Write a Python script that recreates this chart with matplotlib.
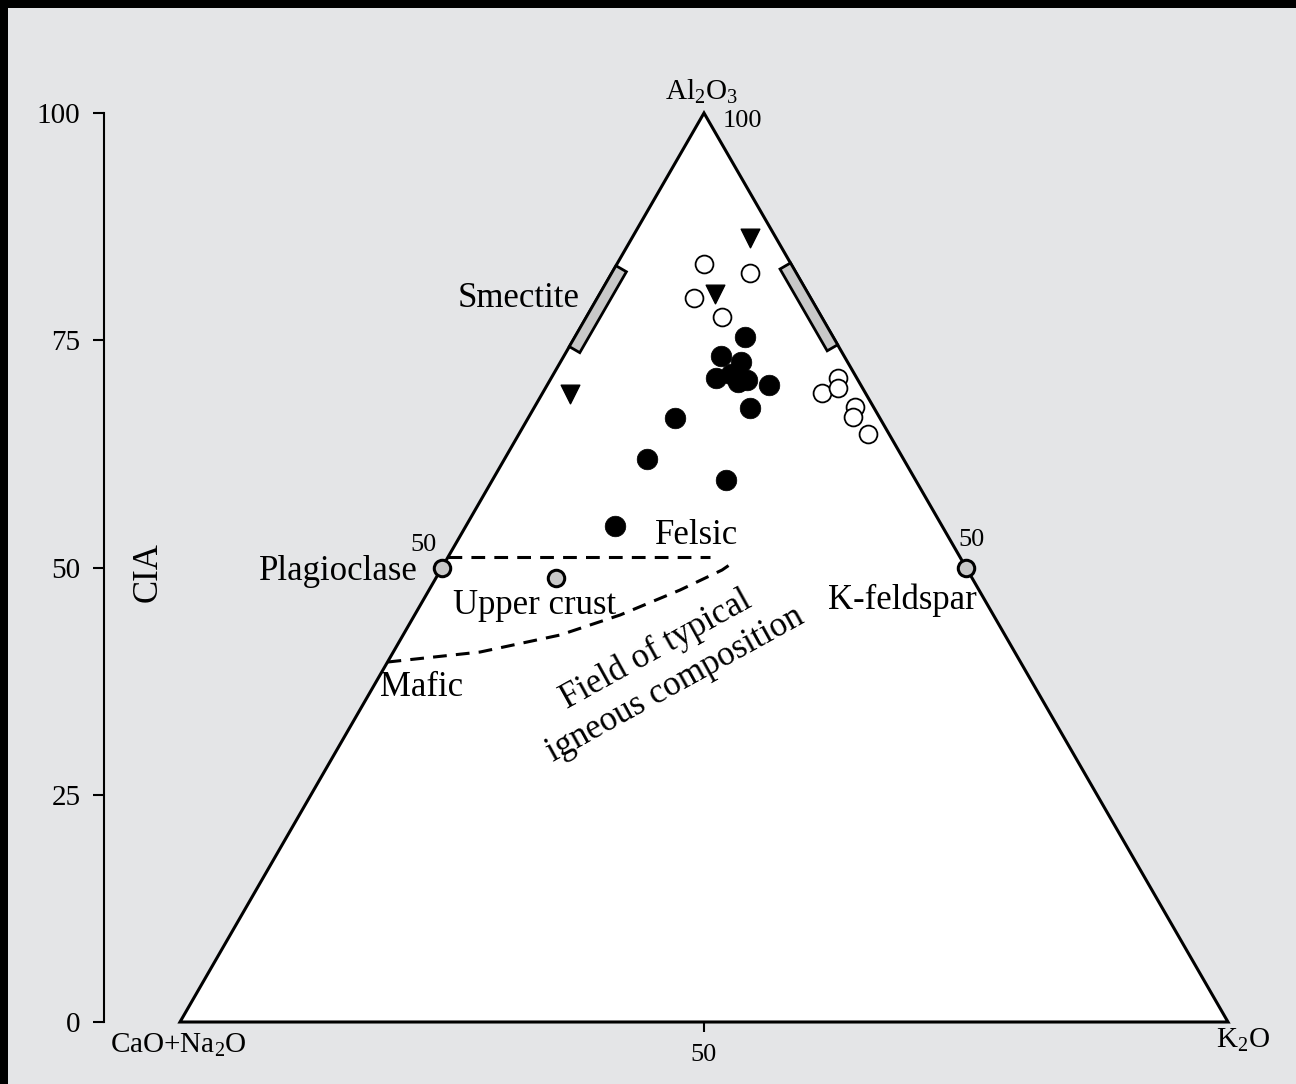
import numpy as np
import matplotlib
matplotlib.use('Agg')
import matplotlib.pyplot as plt
from matplotlib.patches import Polygon, Rectangle

plt.rcParams['font.family'] = ['Liberation Serif', 'DejaVu Serif']
plt.rcParams['mathtext.fontset'] = 'custom'
plt.rcParams['mathtext.rm'] = 'Liberation Serif'
plt.rcParams['mathtext.it'] = 'Liberation Serif:italic'
plt.rcParams['mathtext.bf'] = 'Liberation Serif:bold'

# ---------------- data (Al2O3 = A, K2O = K, CaO+Na2O = 100-A-K) ----------------
filled_A = [75.4, 73.3, 72.6, 70.8, 71.3, 70.4, 70.6, 70.1, 67.5, 66.4, 61.9, 59.6, 54.6]
filled_K = [16.2, 15.0, 17.2, 15.7, 16.9, 18.0, 18.8, 21.15, 20.65, 14.0, 13.65, 22.3, 14.2]

open_A = [83.4, 82.4, 79.6, 77.6, 69.2, 70.85, 69.75, 67.66, 66.56, 64.7]
open_K = [8.3, 13.2, 9.25, 12.9, 26.66, 27.36, 27.9, 30.6, 30.9, 33.3]

tri_A = [86.25, 80.1, 69.1]
tri_K = [11.27, 11.0, 2.65]

mineral_names = ['Plagioclase', 'K-feldspar']
mineral_A = [50.0, 50.0]
mineral_K = [0.0, 50.0]

upper_crust_A = [48.85]
upper_crust_K = [11.45]

smectite_A_range = [74.3, 83.2]
illite_A_range = [74.5, 83.5]

felsic_line_A = [51.2, 51.2]
felsic_line_K = [0.0, 25.0]

mafic_curve_A = [39.6, 40.7, 42.57, 44.77, 47.52, 49.72, 50.3]
mafic_curve_K = [0.0, 8.28, 14.97, 19.6, 23.95, 26.86, 27.3]

cia_ticks = [0, 25, 50, 75, 100]
bottom_ticks = [50]

BG = '#e4e5e7'
S3 = np.sqrt(3) / 2


def tern(A, K):
    A = np.asarray(A, float)
    K = np.asarray(K, float)
    return K + A / 2, A * S3


W, H = 1296, 1084
fig = plt.figure(figsize=(W / 100, H / 100), dpi=100)
fig.patch.set_facecolor(BG)

# black frame on top and left
fig.patches.append(Rectangle((0, 1 - 8 / H), 1, 8 / H, transform=fig.transFigure,
                             facecolor='black', edgecolor='none', zorder=0))
fig.patches.append(Rectangle((0, 0), 8 / W, 1, transform=fig.transFigure,
                             facecolor='black', edgecolor='none', zorder=0))

ax = fig.add_axes([0, 0, 1, 1])
ax.set_facecolor('none')
ax.axis('off')
ppu_x = 1048 / 100
ppu_y = 909 / (100 * S3)
ax.set_xlim(-180 / ppu_x, (W - 180) / ppu_x)
ax.set_ylim(-(H - 1022) / ppu_y, 1022 / ppu_y)


def px(xp, yp):
    return (xp - 180) / ppu_x, (1022 - yp) / ppu_y


# triangle
tx, ty = tern([0, 0, 100], [0, 100, 0])
ax.add_patch(Polygon(np.column_stack([tx, ty]), closed=True, facecolor='white',
                     edgecolor='black', lw=2.2, zorder=1, joinstyle='miter'))

# smectite / illite bars (along the edges, inside)
w = 1.15
a0, a1 = smectite_A_range
p1 = np.array(tern(a0, 0)); p2 = np.array(tern(a1, 0))
n = np.array([S3, -0.5])
ax.add_patch(Polygon([p1, p2, p2 + w * n, p1 + w * n], closed=True, facecolor='#c8c8c8',
                     edgecolor='black', lw=2, zorder=3))
a0, a1 = illite_A_range
p1 = np.array(tern(a0, 100 - a0)); p2 = np.array(tern(a1, 100 - a1))
n = np.array([-S3, -0.5])
ax.add_patch(Polygon([p1, p2, p2 + w * n, p1 + w * n], closed=True, facecolor='#c8c8c8',
                     edgecolor='black', lw=2, zorder=3))

# dashed boundaries
fx, fy = tern(felsic_line_A, felsic_line_K)
ax.plot(fx, fy, color='black', lw=2.2, ls=(0, (4.5, 3)), zorder=2)
mx, my = tern(mafic_curve_A, mafic_curve_K)
ax.plot(mx, my, color='black', lw=2.2, ls=(0, (4.5, 3)), zorder=2)

# samples
x, y = tern(filled_A, filled_K)
ax.scatter(x, y, s=220, c='black', edgecolors='black', linewidths=0.5, zorder=5)
x, y = tern(open_A, open_K)
ax.scatter(x, y, s=165, facecolors='white', edgecolors='black', linewidths=1.3, zorder=5)
x, y = tern(tri_A, tri_K)
ax.scatter(x, y, s=180, marker='v', c='black', zorder=5)

x, y = tern(mineral_A, mineral_K)
ax.scatter(x, y, s=140, facecolors='#c8c8c8', edgecolors='black', linewidths=2.2, zorder=6)
x, y = tern(upper_crust_A, upper_crust_K)
ax.scatter(x, y, s=140, facecolors='#c8c8c8', edgecolors='black', linewidths=2.2, zorder=6)

# labels
FS = 25
ax.text(*px(701, 92), r'Al$_2$O$_3$', fontsize=21, ha='center', va='center')
ax.text(*px(742, 121), '100', fontsize=19, ha='center', va='center')
ax.text(*px(580, 298), 'Smectite', fontsize=FS, ha='right', va='center')
ax.text(*px(423, 545), '50', fontsize=19, ha='center', va='center')
ax.text(*px(418, 571), 'Plagioclase', fontsize=FS, ha='right', va='center')
ax.text(*px(697, 536), 'Felsic', fontsize=FS, ha='center', va='center')
ax.text(*px(535, 605), 'Upper crust', fontsize=FS, ha='center', va='center')
ax.text(*px(422, 688), 'Mafic', fontsize=FS, ha='center', va='center')
ax.text(*px(666, 667), 'Field of typical\nigneous composition', fontsize=FS,
        ha='center', va='center', rotation=29, rotation_mode='anchor',
        multialignment='center', linespacing=1.25)
ax.text(*px(902, 600), 'K-feldspar', fontsize=FS, ha='center', va='center')
ax.text(*px(972, 540), '50', fontsize=19, ha='center', va='center')
ax.text(*px(178, 1045), r'CaO+Na$_2$O', fontsize=21, ha='center', va='center')
ax.text(*px(1243, 1040), r'K$_2$O', fontsize=21, ha='center', va='center')
ax.text(*px(148, 572), 'CIA', fontsize=25, ha='center', va='center', rotation=90)

# CIA axis
cax = fig.add_axes([104 / W, (H - 1022) / H, 1 / W, 909 / H])
cax.set_facecolor('none')
cax.set_ylim(0, 100)
cax.set_yticks(cia_ticks)
cax.set_yticklabels([str(t) for t in cia_ticks])
cax.set_xticks([])
for s in ['right', 'top', 'bottom']:
    cax.spines[s].set_visible(False)
cax.spines['left'].set_linewidth(1.5)
cax.tick_params(axis='y', direction='out', length=8, width=1.5, labelsize=21, pad=9)

# bottom tick
bax = fig.add_axes([180 / W, (H - 1022) / H, 1048 / W, 1 / H])
bax.set_facecolor('none')
bax.set_xlim(0, 100)
bax.set_xticks(bottom_ticks)
bax.set_xticklabels([str(t) for t in bottom_ticks])
bax.set_yticks([])
for s in ['left', 'right', 'top', 'bottom']:
    bax.spines[s].set_visible(False)
bax.tick_params(axis='x', direction='out', length=7, width=1.5, labelsize=19, pad=9)

fig.savefig('out.png', dpi=100, facecolor=BG)
